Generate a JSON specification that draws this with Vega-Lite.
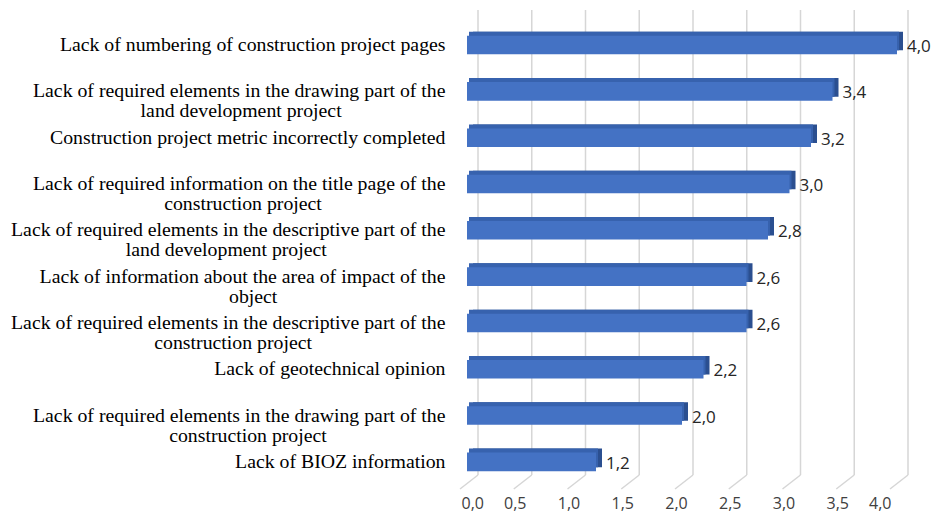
{
  "$schema": "https://vega.github.io/schema/vega-lite/v6.json",
  "width": 430,
  "height": 465,
  "autosize": {"type": "none"},
  "padding": {"left": 467, "top": 10, "right": 38, "bottom": 47},
  "background": "white",
  "config": {
    "view": {"stroke": null},
    "locale": {"number": {"decimal": ",", "thousands": ".", "grouping": [3], "currency": ["", " €"]}}
  },
  "datasets": {
    "bars": [
      {"cause": "Lack of numbering of construction project pages", "value": 4.0},
      {"cause": "Lack of required elements in the drawing part of the|land development project", "value": 3.4},
      {"cause": "Construction project metric incorrectly completed", "value": 3.2},
      {"cause": "Lack of required information on the title page of the|construction project", "value": 3.0},
      {"cause": "Lack of required elements in the descriptive part of the|land development project", "value": 2.8},
      {"cause": "Lack of information about the area of impact of the|object", "value": 2.6},
      {"cause": "Lack of required elements in the descriptive part of the|construction project", "value": 2.6},
      {"cause": "Lack of geotechnical opinion", "value": 2.2},
      {"cause": "Lack of required elements in the drawing part of the|construction project", "value": 2.0},
      {"cause": "Lack of BIOZ information", "value": 1.2}
    ],
    "ticks": [{"v": 0}, {"v": 0.5}, {"v": 1}, {"v": 1.5}, {"v": 2}, {"v": 2.5}, {"v": 3}, {"v": 3.5}, {"v": 4}]
  },
  "layer": [
    {
      "data": {"name": "ticks"},
      "mark": {"type": "rule", "color": "#D6D6D6", "strokeWidth": 1.5, "xOffset": 11},
      "encoding": {
        "x": {
          "field": "v",
          "type": "quantitative",
          "scale": {"domain": [0, 4], "nice": false, "zero": true},
          "axis": {
            "values": [0, 0.5, 1, 1.5, 2, 2.5, 3, 3.5, 4],
            "format": ".1f",
            "grid": false,
            "domain": false,
            "ticks": false,
            "title": null,
            "labelFont": "Open Sans",
            "labelFontSize": 16,
            "labelColor": "#404040",
            "labelPadding": 20,
            "labelOffset": -6
          }
        }
      }
    },
    {
      "data": {"name": "ticks"},
      "mark": {"type": "rule", "color": "#D6D6D6", "strokeWidth": 1.5, "xOffset": -7, "yOffset": 14, "x2Offset": 11, "y2Offset": 0},
      "encoding": {
        "x": {"field": "v", "type": "quantitative"},
        "x2": {"field": "v"},
        "y": {"datum": 0, "type": "quantitative", "scale": {"domain": [0, 1]}, "axis": null},
        "y2": {"datum": 0}
      }
    },
    {
      "data": {"name": "bars"},
      "encoding": {
        "y": {
          "field": "cause",
          "type": "nominal",
          "sort": null,
          "scale": {"paddingInner": 0.6, "paddingOuter": 0.32, "align": 0.87},
          "axis": {
            "title": null,
            "domain": false,
            "ticks": false,
            "labelPadding": 22,
            "labelLimit": 470,
            "labelFont": "Liberation Serif",
            "labelFontSize": 19.8,
            "labelLineHeight": 20,
            "labelColor": "#000000",
            "labelExpr": "indexof(datum.label, '|') < 0 ? datum.label : [split(datum.label, '|')[0], split(datum.label, '|')[1] + pad('', round(0.75 * (length(split(datum.label, '|')[0]) - length(split(datum.label, '|')[1]))), '\u00a0') + '\u2060']"
          }
        }
      },
      "layer": [
        {
          "mark": {"type": "bar", "color": "#2B4F90", "xOffset": 6, "x2Offset": 6, "yOffset": -4},
          "encoding": {"x": {"field": "value", "type": "quantitative"}}
        },
        {
          "mark": {"type": "bar", "color": "#3762AE", "xOffset": 2, "x2Offset": 5, "yOffset": -4},
          "encoding": {"x": {"field": "value", "type": "quantitative"}}
        },
        {
          "mark": {"type": "bar", "color": "#4472C4"},
          "encoding": {"x": {"field": "value", "type": "quantitative"}}
        },
        {
          "mark": {"type": "text", "align": "left", "baseline": "middle", "dx": 10, "dy": 2, "font": "Open Sans", "fontSize": 17, "color": "#262626"},
          "encoding": {
            "x": {"field": "value", "type": "quantitative"},
            "text": {"field": "value", "type": "quantitative", "format": ".1f"}
          }
        }
      ]
    }
  ],
  "resolve": {"scale": {"y": "independent"}}
}
